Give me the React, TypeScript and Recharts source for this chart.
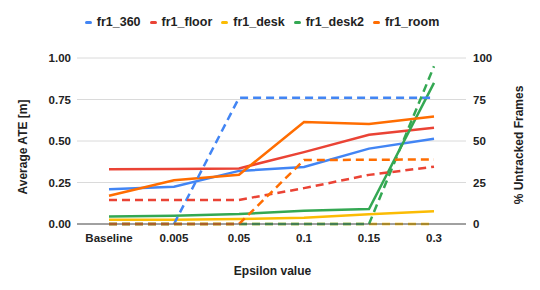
import React from 'react';
import { LineChart, Line, XAxis, YAxis, CartesianGrid, Legend, Label } from 'recharts';

const categories = ['Baseline', '0.005', '0.05', '0.1', '0.15', '0.3'];

// Average ATE [m] (left axis, solid lines)
const ate360 = [0.21, 0.225, 0.32, 0.343, 0.454, 0.514];
const ateFloor = [0.33, 0.332, 0.335, 0.433, 0.538, 0.58];
const ateDesk = [0.025, 0.026, 0.03, 0.038, 0.058, 0.077];
const ateDesk2 = [0.045, 0.05, 0.06, 0.08, 0.09, 0.85];
const ateRoom = [0.17, 0.263, 0.297, 0.615, 0.603, 0.647];

// % Untracked Frames (right axis, dashed lines)
const ut360 = [0, 0, 76, 76, 76, 76];
const utFloor = [14.5, 14.5, 14.5, 21.6, 29.6, 34.5];
const utDesk = [0, 0, 0, 0, 0, 0];
const utDesk2 = [0, 0, 0, 0, 0, 95];
const utRoom = [0, 0, 0, 38.5, 38.7, 38.9];

const leftTicks = [0, 0.25, 0.5, 0.75, 1];
const rightTicks = [0, 25, 50, 75, 100];

const seriesNames = ['fr1_360', 'fr1_floor', 'fr1_desk', 'fr1_desk2', 'fr1_room'];
const seriesColors = ['#4285F4', '#EA4335', '#FBBC04', '#34A853', '#FF6D01'];

const ateLists = [ate360, ateFloor, ateDesk, ateDesk2, ateRoom];
const utLists = [ut360, utFloor, utDesk, utDesk2, utRoom];

const data = categories.map((c, i) => {
  const row: Record<string, string | number> = { name: c };
  seriesNames.forEach((s, k) => {
    row[s] = ateLists[k][i];
    row[s + '_ut'] = utLists[k][i];
  });
  return row;
});

const FONT = '"Liberation Sans", Arial, sans-serif';
const TEXT = '#222222';

const tickStyle = { fill: TEXT, fontSize: 11.5, fontWeight: 700, fontFamily: FONT };

const renderLegend = () => (
  <div
    style={{
      display: 'flex',
      justifyContent: 'center',
      alignItems: 'center',
      fontFamily: FONT,
      fontWeight: 700,
      fontSize: 12.5,
      lineHeight: '14px',
      color: TEXT,
    }}
  >
    {seriesNames.map((s, k) => (
      <div key={s} style={{ display: 'flex', alignItems: 'center', marginRight: k < seriesNames.length - 1 ? 9 : 0 }}>
        <span
          style={{
            display: 'inline-block',
            width: 7,
            height: 3,
            borderRadius: 1.5,
            background: seriesColors[k],
            marginRight: 5,
          }}
        />
        <span>{s}</span>
      </div>
    ))}
  </div>
);

const leftTitle = (props: any) => {
  const vb = props.viewBox;
  const cx = vb.x + 23;
  const cy = vb.y + vb.height / 2 + 6;
  return (
    <text
      x={cx}
      y={cy}
      transform={`rotate(-90 ${cx} ${cy})`}
      textAnchor="middle"
      dominantBaseline="central"
      fill={TEXT}
      fontFamily={FONT}
      fontWeight={700}
      fontSize={12}
    >
      Average ATE [m]
    </text>
  );
};

const rightTitle = (props: any) => {
  const vb = props.viewBox;
  const cx = vb.x + 53;
  const cy = vb.y + vb.height / 2 + 4;
  return (
    <text
      x={cx}
      y={cy}
      transform={`rotate(-90 ${cx} ${cy})`}
      textAnchor="middle"
      dominantBaseline="central"
      fill={TEXT}
      fontFamily={FONT}
      fontWeight={700}
      fontSize={12}
    >
      % Untracked Frames
    </text>
  );
};

const bottomTitle = (props: any) => {
  const vb = props.viewBox;
  return (
    <text
      x={vb.x + vb.width / 2 + 1}
      y={vb.y + 51}
      textAnchor="middle"
      fill={TEXT}
      fontFamily={FONT}
      fontWeight={700}
      fontSize={12}
    >
      Epsilon value
    </text>
  );
};

export default function App() {
  return (
    <div style={{ position: 'absolute', left: 0, top: 0, width: 540, height: 290, background: '#fff' }}>
      <LineChart width={540} height={290} data={data} margin={{ top: 58, right: 0, bottom: 0, left: 0 }}>
        <CartesianGrid yAxisId="left" vertical={false} stroke="#dadada" />
        <XAxis
          dataKey="name"
          interval={0}
          padding={{ left: 32, right: 32 }}
          tickLine={false}
          tickSize={0}
          tickMargin={10}
          axisLine={{ stroke: '#555555' }}
          height={66}
          tick={tickStyle}
        >
          <Label content={bottomTitle} />
        </XAxis>
        <YAxis
          yAxisId="left"
          orientation="left"
          domain={[0, 1]}
          ticks={leftTicks}
          tickFormatter={(v: number) => v.toFixed(2)}
          width={77}
          axisLine={false}
          tickLine={false}
          tickSize={0}
          tickMargin={6}
          tick={tickStyle}
        >
          <Label content={leftTitle} />
        </YAxis>
        <YAxis
          yAxisId="right"
          orientation="right"
          domain={[0, 100]}
          ticks={rightTicks}
          width={74}
          axisLine={false}
          tickLine={false}
          tickSize={0}
          tickMargin={7}
          tick={{ ...tickStyle, textAnchor: 'start' }}
        >
          <Label content={rightTitle} />
        </YAxis>
        <Legend
          verticalAlign="middle"
          align="center"
          content={renderLegend}
          wrapperStyle={{ top: 15, left: 0, width: 524, height: 16 }}
        />
        {seriesNames.map((s, k) => (
          <Line
            key={s}
            yAxisId="left"
            type="linear"
            dataKey={s}
            name={s}
            stroke={seriesColors[k]}
            strokeWidth={2.5}
            dot={false}
            activeDot={false}
            isAnimationActive={false}
          />
        ))}
        {seriesNames.map((s, k) => (
          <Line
            key={s + '_ut'}
            yAxisId="right"
            type="linear"
            dataKey={s + '_ut'}
            name={s + ' untracked'}
            stroke={seriesColors[k]}
            strokeWidth={2.5}
            strokeDasharray="8 5"
            dot={false}
            activeDot={false}
            legendType="none"
            isAnimationActive={false}
          />
        ))}
      </LineChart>
    </div>
  );
}
